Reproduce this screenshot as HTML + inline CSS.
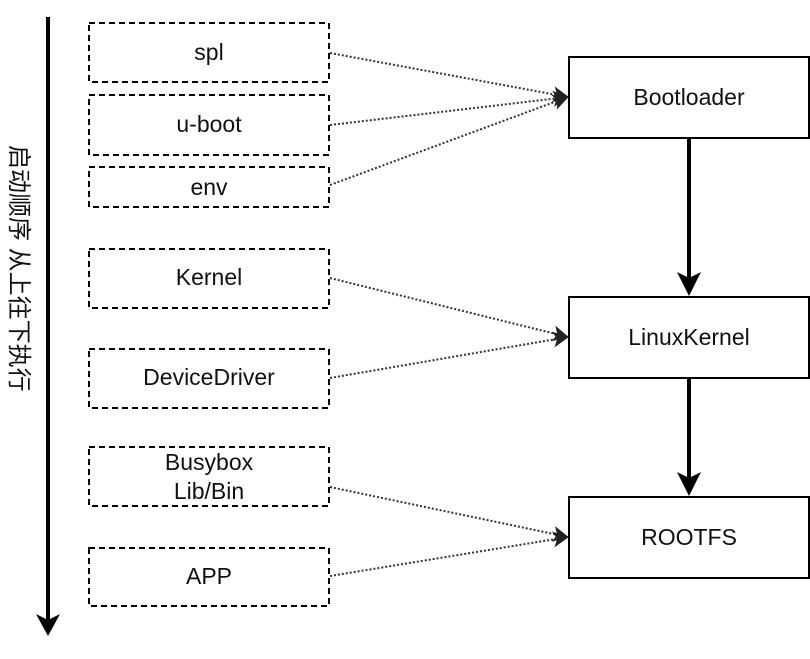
<!DOCTYPE html>
<html><head><meta charset="utf-8"><style>
html,body{margin:0;padding:0;background:#fff;}
svg text{font-family:"Liberation Sans","Noto Sans CJK SC",sans-serif;}
</style></head><body>
<svg width="810" height="654" viewBox="0 0 810 654" xmlns="http://www.w3.org/2000/svg">
<defs>
<marker id="ah" markerWidth="16" markerHeight="18" refX="15" refY="9" orient="auto" markerUnits="userSpaceOnUse">
<path d="M0,1 L16,9 L0,17 L4,9 Z" fill="#222"/>
</marker>
</defs>
<line x1="48" y1="17" x2="48" y2="622" stroke="#000" stroke-width="4"/>
<path d="M36,614 L48,636 L60,614 L48,620 Z" fill="#000"/>
<text transform="translate(11,145) rotate(90)" font-size="24" fill="#111">启动顺序 从上往下执行</text>

<g fill="none" stroke="#000" stroke-width="2" stroke-dasharray="6,4">
<rect x="89" y="23" width="240" height="59"/>
<rect x="89" y="95" width="240" height="60"/>
<rect x="89" y="167" width="240" height="40"/>
<rect x="89" y="249" width="240" height="59"/>
<rect x="89" y="349" width="240" height="59"/>
<rect x="89" y="447" width="240" height="59"/>
<rect x="89" y="548" width="240" height="58"/>
</g>
<g fill="#fff" stroke="#000" stroke-width="2">
<rect x="569" y="57" width="240" height="81"/>
<rect x="569" y="297" width="240" height="81"/>
<rect x="569" y="497" width="240" height="81"/>
</g>

<g fill="none" stroke="#333" stroke-width="2" stroke-dasharray="2,2" marker-end="url(#ah)">
<line x1="330" y1="53" x2="568" y2="97"/>
<line x1="330" y1="125" x2="568" y2="97"/>
<line x1="330" y1="185" x2="568" y2="97"/>
<line x1="330" y1="278" x2="568" y2="337"/>
<line x1="330" y1="378" x2="568" y2="337"/>
<line x1="330" y1="487" x2="568" y2="537"/>
<line x1="330" y1="576" x2="568" y2="537"/>
</g>

<g stroke="#000" stroke-width="4">
<line x1="689" y1="139" x2="689" y2="282"/>
<line x1="689" y1="379" x2="689" y2="482"/>
</g>
<path d="M677,272 L689,296 L701,272 L689,278 Z" fill="#000"/>
<path d="M677,472 L689,496 L701,472 L689,478 Z" fill="#000"/>

<g font-size="23" fill="#111" text-anchor="middle">
<text x="209" y="60">spl</text>
<text x="209" y="132">u-boot</text>
<text x="209" y="195">env</text>
<text x="209" y="285">Kernel</text>
<text x="209" y="385">DeviceDriver</text>
<text x="209" y="470">Busybox</text>
<text x="209" y="499">Lib/Bin</text>
<text x="209" y="584">APP</text>
<text x="689" y="105">Bootloader</text>
<text x="689" y="345">LinuxKernel</text>
<text x="689" y="545">ROOTFS</text>
</g>
</svg>
</body></html>
